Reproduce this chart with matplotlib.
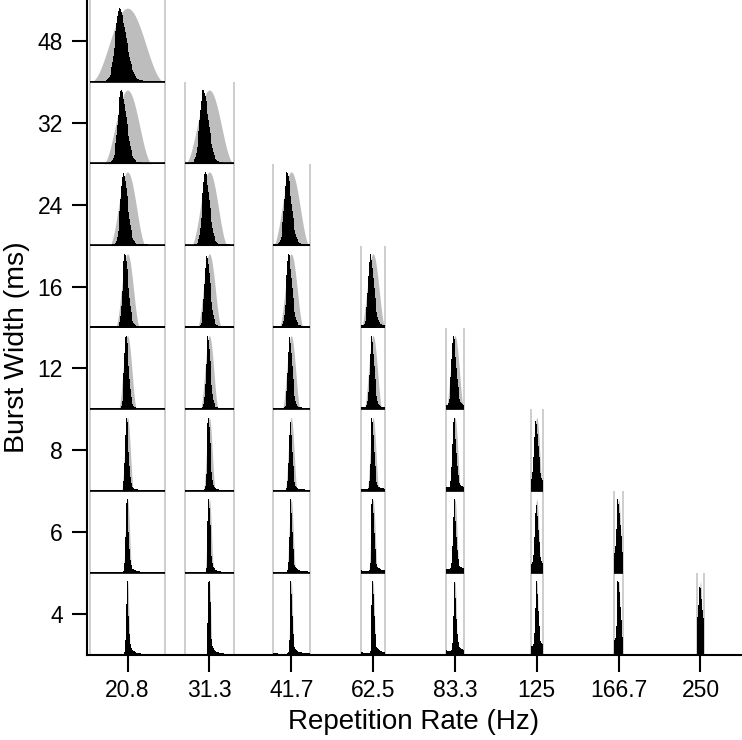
import numpy as np
import matplotlib
matplotlib.use('Agg')
import matplotlib.pyplot as plt

plt.rcParams['font.family'] = ['Liberation Sans', 'DejaVu Sans']

# ---- data ----
rate_labels = ["20.8", "31.3", "41.7", "62.5", "83.3", "125", "166.7", "250"]
periods_ms = [48, 32, 24, 16, 12, 8, 6, 4]            # 1 / repetition rate
burst_widths = [4, 6, 8, 12, 16, 24, 32, 48]          # rows, bottom to top
# response (black histogram) parameters per burst width
peak_ms = [1.7, 2.5, 3.3, 5.0, 6.3, 9.3, 12.0, 18.8]  # peak time after burst onset
rise_ms = [0.55, 0.65, 0.8, 1.1, 1.4, 1.8, 2.2, 2.7]  # rising-flank width
fall_ms = [0.9, 1.1, 1.3, 1.7, 2.2, 2.8, 3.4, 4.4]    # falling-flank width
tail_amp = [0.22, 0.20, 0.16, 0.12, 0.09, 0.06, 0.05, 0.04]
tail_ms = [2.5, 2.5, 2.5, 2.5, 3.0, 3.0, 3.5, 4.0]
# per repetition-rate column: pedestal level and response spread factor
floor_level = [0.015, 0.015, 0.02, 0.03, 0.05, 0.10, 0.12, 0.16]
spread = [1.0, 1.0, 1.0, 1.0, 1.1, 1.3, 1.5, 1.5]

X_PER_MS = 0.905 / 48.0     # x data units per ms
H = 0.90                    # peak height in a row
GREY = '#bdbdbd'
EDGE = '#c6c6c6'


def response(tau, i, sp):
    tp, sl, sr = peak_ms[i], rise_ms[i] * sp, fall_ms[i] * sp
    a, tt = tail_amp[i], tail_ms[i]
    d = tau - tp
    left = np.exp(-d ** 2 / (2 * sl ** 2))
    right = (1 - a) * np.exp(-d ** 2 / (2 * sr ** 2)) + a * np.exp(-np.clip(d, 0, None) / tt)
    return np.where(d < 0, left, right)


fig = plt.figure(figsize=(7.42, 7.40), dpi=100)
ax = fig.add_axes([87 / 742, 85 / 740, 654 / 742, 655 / 740])

for c, T in enumerate(periods_ms):
    hw = T * X_PER_MS / 2
    rows = [r for r, w in enumerate(burst_widths) if w <= T]
    ax.vlines([c - hw, c + hw], 0, len(rows), color=EDGE, lw=1.2, zorder=1)
    for r in rows:
        w = burst_widths[r]
        onset = T / 2 - w / 2
        # grey stimulus envelope
        tg = np.linspace(onset, onset + w, 300)
        g = np.cos(np.pi * (tg - T / 2) / w) ** 2
        ax.fill_between(c + (tg - T / 2) * X_PER_MS, r, r + H * g,
                        color=GREY, lw=0, zorder=2)
        # black response histogram (periodic)
        nb = max(int(T * X_PER_MS * 81.85 / 0.8), 8)
        edges = np.linspace(0, T, nb + 1)
        ctr = 0.5 * (edges[:-1] + edges[1:])
        h = np.zeros_like(ctr)
        for k in range(-1, 6):
            h += response(ctr - onset + k * T, r, spread[c])
        h = h / h.max()
        fl = floor_level[c]
        h = fl + (1 - fl) * h
        ax.stairs(r + H * h, c + (edges - T / 2) * X_PER_MS, baseline=r,
                  fill=True, color='black', lw=0, zorder=3)
        ax.plot([c - hw, c + hw], [r + 0.004, r + 0.004], color='black',
                lw=1.2, zorder=4, solid_capstyle='butt')

ax.set_xlim(-0.495, 7.495)
ax.set_ylim(0, 8)
ax.set_xticks(range(len(rate_labels)))
ax.set_xticklabels(rate_labels)
ax.set_yticks(np.arange(len(burst_widths)) + 0.5)
ax.set_yticklabels([str(w) for w in burst_widths])
for s in ['top', 'right']:
    ax.spines[s].set_visible(False)
for s in ['left', 'bottom']:
    ax.spines[s].set_linewidth(1.5)
ax.tick_params(direction='out', width=1.5, labelsize=16.5)
ax.tick_params(axis='x', length=12.5, pad=5)
ax.tick_params(axis='y', length=11, pad=6.5)
ax.set_xlabel('Repetition Rate (Hz)', fontsize=20, labelpad=5)
ax.set_ylabel('Burst Width (ms)', fontsize=20.5)
ax.yaxis.set_label_coords(-0.087, 0.47)

fig.savefig('out.png', dpi=100)
